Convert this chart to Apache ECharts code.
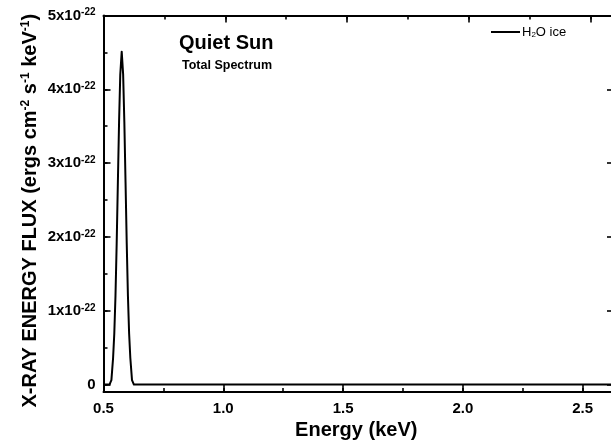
<!DOCTYPE html>
<html>
<head>
<meta charset="utf-8">
<script src="https://cdn.jsdelivr.net/npm/echarts@6/dist/echarts.min.js"></script>
<style>
html,body{margin:0;padding:0;background:#fff;}
#chart{width:611px;height:443px;}
</style>
</head>
<body>
<div id="chart"></div>
<script>
// Energy (keV) and flux (units of 1e-22 ergs cm^-2 s^-1 keV^-1)
const energyKeV = [0.50, 0.525, 0.533, 0.54, 0.545, 0.55, 0.555, 0.56, 0.565, 0.57, 0.576, 0.582, 0.587, 0.592, 0.597, 0.602, 0.607, 0.612, 0.619, 0.627, 2.65];
const fluxE22   = [0.00, 0.00, 0.06, 0.36, 0.69, 1.20, 1.91, 2.74, 3.56, 4.20, 4.51, 4.20, 3.56, 2.74, 1.91, 1.20, 0.69, 0.36, 0.06, 0.00, 0.00];
const fluxExponent = '-22';
const yTickValues = [0, 1, 2, 3, 4, 5];
const xTickLabels = ['0.5', '1.0', '1.5', '2.0', '2.5'];
const seriesName = 'H2O ice';
const titleMain = 'Quiet Sun';
const titleSub = 'Total Spectrum';

const FONT = '"Liberation Sans", Arial, Helvetica, sans-serif';
const black = '#000';

const chart = echarts.init(document.getElementById('chart'), null, {renderer: 'canvas'});

const gridLeft = 103.5, gridTop = 15.5, gridRight = 614, gridBottom = 392;

function majorTick(len){ return {show: true, inside: true, length: len, lineStyle: {color: black, width: 1.6}}; }

const data = energyKeV.map((x, i) => [x, fluxE22[i]]);

const option = {
  backgroundColor: '#fff',
  animation: false,
  textStyle: {fontFamily: FONT},
  title: [
    {text: titleMain, left: 179, top: 32, textStyle: {fontFamily: FONT, fontWeight: 'bold', fontSize: 20, color: black, lineHeight: 22}, padding: 0},
    {text: titleSub, left: 182, top: 59, textStyle: {fontFamily: FONT, fontWeight: 'bold', fontSize: 12.5, color: black, lineHeight: 14}, padding: 0}
  ],
  legend: {
    left: 491, top: 25, padding: 0,
    itemWidth: 29, itemHeight: 2, itemGap: 0,
    icon: 'rect',
    data: [{name: seriesName, icon: 'rect', itemStyle: {color: black}}],
    formatter: () => 'H{sub|2}O ice',
    textStyle: {fontFamily: FONT, fontSize: 13, color: black, lineHeight: 14, padding: [0,0,0,-3],
      rich: {sub: {fontFamily: FONT, fontSize: 8, lineHeight: 5, verticalAlign: 'bottom', color: black}}}
  },
  grid: {left: gridLeft, top: gridTop, width: gridRight - gridLeft, height: gridBottom - gridTop, outerBoundsMode: 'none', containLabel: false},
  xAxis: [
    {type: 'value', position: 'bottom', min: 0.5, max: 2.631, minInterval: 0.5, maxInterval: 0.5,
     axisLine: {show: true, onZero: false, lineStyle: {color: black, width: 2}},
     axisTick: majorTick(7), splitLine: {show: false},
     axisLabel: {show: true, showMaxLabel: false, margin: 9, color: black, fontFamily: FONT, fontWeight: 'bold', fontSize: 15,
       formatter: (v) => { const i = Math.round((v - 0.5) / 0.5); return (Math.abs(v - (0.5 + i*0.5)) < 1e-6 && xTickLabels[i]) ? xTickLabels[i] : ''; }},
     name: 'Energy (keV)', nameLocation: 'middle', nameGap: 28, nameMoveOverlap: false,
     nameTextStyle: {color: black, fontFamily: FONT, fontWeight: 'bold', fontSize: 20, padding: [0, 5, 0, 0]}},
    {type: 'value', position: 'bottom', min: 0.5, max: 2.631, minInterval: 0.25, maxInterval: 0.25,
     axisLine: {show: false, onZero: false}, axisTick: majorTick(4), axisLabel: {show: false}, splitLine: {show: false}},
    {type: 'value', position: 'top', min: 0.5, max: 2.596, minInterval: 0.5, maxInterval: 0.5,
     axisLine: {show: true, onZero: false, lineStyle: {color: black, width: 2}},
     axisTick: majorTick(7), axisLabel: {show: false}, splitLine: {show: false}},
    {type: 'value', position: 'top', min: 0.5, max: 2.596, minInterval: 0.25, maxInterval: 0.25,
     axisLine: {show: false, onZero: false}, axisTick: majorTick(4), axisLabel: {show: false}, splitLine: {show: false}}
  ],
  yAxis: [
    {type: 'value', position: 'left', min: -0.1, max: 5, minInterval: 1, maxInterval: 1,
     axisLine: {show: true, onZero: false, lineStyle: {color: black, width: 2}},
     axisTick: majorTick(7), splitLine: {show: false},
     axisLabel: {show: true, showMinLabel: false, margin: 8, color: black, fontFamily: FONT, fontWeight: 'bold', fontSize: 15, lineHeight: 16,
       formatter: (v) => {
         const k = yTickValues.find(t => Math.abs(t - v) < 1e-6);
         if (k === undefined) return '';
         return k === 0 ? '0' : k + 'x10{sup|' + fluxExponent + '}';
       },
       rich: {sup: {fontFamily: FONT, fontWeight: 'bold', fontSize: 10, lineHeight: 6, verticalAlign: 'top', color: black}}},
     name: 'X-RAY ENERGY FLUX (ergs cm{sup|-2} s{sup|-1} keV{sup|-1})',
     nameLocation: 'middle', nameGap: 63, nameRotate: 90, nameMoveOverlap: false,
     nameTextStyle: {color: black, fontFamily: FONT, fontWeight: 'bold', fontSize: 20, lineHeight: 21, padding: [0, 14, 0, 0],
       rich: {sup: {fontFamily: FONT, fontWeight: 'bold', fontSize: 12, lineHeight: 4, verticalAlign: 'top', color: black}}}},
    {type: 'value', position: 'left', min: -0.1, max: 5, minInterval: 0.5, maxInterval: 0.5,
     axisLine: {show: false, onZero: false}, axisTick: majorTick(4), axisLabel: {show: false}, splitLine: {show: false}},
    {type: 'value', position: 'right', min: -0.1, max: 5, minInterval: 1, maxInterval: 1,
     axisLine: {show: true, onZero: false, lineStyle: {color: black, width: 2}},
     axisTick: majorTick(7), axisLabel: {show: false}, splitLine: {show: false}}
  ],
  series: [
    {name: seriesName, type: 'line', xAxisIndex: 0, yAxisIndex: 0, data: data,
     showSymbol: false, symbol: 'none', smooth: false,
     lineStyle: {color: black, width: 2, join: 'round'}, itemStyle: {color: black}}
  ]
};
chart.setOption(option);
</script>
</body>
</html>
